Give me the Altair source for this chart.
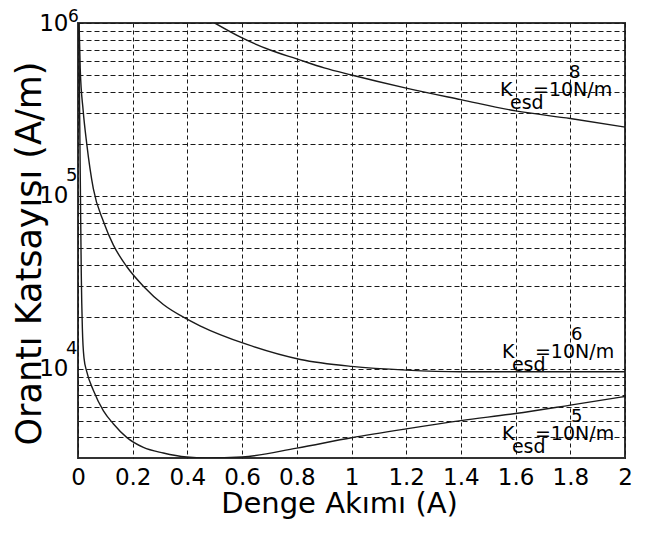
import altair as alt
import pandas as pd

# ---- data ----
x_ticks = [0, 0.2, 0.4, 0.6, 0.8, 1, 1.2, 1.4, 1.6, 1.8, 2]
y_grid = [4e3, 5e3, 6e3, 7e3, 8e3, 9e3,
          1e4, 2e4, 3e4, 4e4, 5e4, 6e4, 7e4, 8e4, 9e4,
          1e5, 2e5, 3e5, 4e5, 5e5, 6e5, 7e5, 8e5, 9e5, 1e6]

k8_x = [0.50, 0.60, 0.70, 0.80, 0.90, 1.00, 1.20, 1.40, 1.60, 1.80, 2.00]
k8_y = [1.0e6, 8.2e5, 7.0e5, 6.2e5, 5.5e5, 5.0e5, 4.2e5, 3.6e5, 3.1e5, 2.8e5, 2.5e5]

k6_x = [0.004, 0.008, 0.019, 0.032, 0.056, 0.093, 0.129, 0.178, 0.239, 0.312,
        0.397, 0.446, 0.618, 0.813, 1.0, 1.2, 1.4, 1.6, 1.8, 2.0]
k6_y = [1.0e6, 5.5e5, 3.1e5, 2.0e5, 1.1e5, 7.1e4, 5.2e4, 3.9e4, 3.0e4, 2.35e4,
        1.94e4, 1.77e4, 1.38e4, 1.13e4, 1.03e4, 9.8e3, 9.6e3, 9.6e3, 9.6e3, 9.6e3]

k5_x = [0.003, 0.006, 0.009, 0.012, 0.016, 0.022, 0.032, 0.056, 0.093, 0.129,
        0.178, 0.239, 0.312, 0.397, 0.47, 0.6, 0.8, 1.0, 1.2, 1.4, 1.6, 1.8, 2.0]
k5_y = [1.0e6, 3.0e5, 1.0e5, 3.5e4, 1.7e4, 1.15e4, 9.6e3, 7.5e3, 5.7e3, 4.8e3,
        4.0e3, 3.5e3, 3.25e3, 3.08e3, 3.04e3, 3.08e3, 3.47e3, 3.98e3, 4.48e3,
        5.0e3, 5.5e3, 6.15e3, 6.9e3]

exp_values = [1e4, 1e5, 1e6]
exp_texts = ["4", "5", "6"]

label_x = [1.543, 1.550, 1.550]
label_y = [3.79e5, 1.157e4, 3.86e3]
label_exp = ["8", "6", "5"]

# ---- tables ----
rows = []
for name, xs, ys in [("k8", k8_x, k8_y), ("k6", k6_x, k6_y), ("k5", k5_x, k5_y)]:
    for xv, yv in zip(xs, ys):
        rows.append({"series": name, "x": xv, "y": yv})
curves = pd.DataFrame(rows)

exp_df = pd.DataFrame({"x": [0] * 3, "y": exp_values, "t": exp_texts})
lab_df = pd.DataFrame({"x": label_x, "y": label_y, "e": label_exp})

FONT = "DejaVu Sans"
INK = "#1a1a1a"

xscale = alt.Scale(domain=[0, 2], nice=False, zero=False)
yscale = alt.Scale(type="log", domain=[3040, 1e6], nice=False)

x_axis = alt.Axis(
    values=x_ticks, format="~g", grid=True, gridDash=[4, 3], gridColor=INK,
    gridOpacity=1, gridWidth=1, ticks=False, domain=False, labelFlush=False,
    labelOverlap=False, labelFont=FONT, labelFontSize=23, labelColor="black",
    labelPadding=8, title="Denge Akımı (A)", titleFont=FONT, titleFontSize=29,
    titleFontWeight="normal", titleColor="black", titleX=261, titleY=54,
    titleAlign="center", titleBaseline="alphabetic", titleAnchor="start",
)
y_axis = alt.Axis(
    values=y_grid, grid=True, gridDash=[5, 3], gridColor=INK, gridOpacity=1,
    gridWidth=1, ticks=False, domain=False, labelFlush=False, labelOverlap=False,
    labelExpr="abs(log(datum.value)/LN10 - round(log(datum.value)/LN10)) < 0.001 ? '10' : ''",
    labelFont=FONT, labelFontSize=23, labelColor="black", labelPadding=10,
    labelBaseline="middle",
    title="Orantı Katsayısı (A/m)", titleFont=FONT, titleFontSize=35,
    titleFontWeight="normal", titleColor="black", titleAngle=270,
    titleX=-38, titleY=230, titleAlign="center", titleBaseline="alphabetic",
    titleAnchor="start",
)

lines = alt.Chart(curves).mark_line(
    color=INK, strokeWidth=1.4, clip=True, interpolate="monotone"
).encode(
    x=alt.X("x:Q", scale=xscale, axis=x_axis),
    y=alt.Y("y:Q", scale=yscale, axis=y_axis),
    detail="series:N",
)

exp_low = alt.Chart(exp_df).transform_filter("datum.t != '6'").mark_text(
    font=FONT, fontSize=18, color="black", align="left", baseline="middle",
    dx=-12, dy=-20,
).encode(x="x:Q", y="y:Q", text="t:N")
exp_top = alt.Chart(exp_df).transform_filter("datum.t == '6'").mark_text(
    font=FONT, fontSize=17, color="black", align="left", baseline="middle",
    dx=-10, dy=-6,
).encode(x="x:Q", y="y:Q", text="t:N")

def piece(text_value, dx, dy, size, field=None):
    m = alt.Chart(lab_df).mark_text(
        font=FONT, fontSize=size, color="black", align="left",
        baseline="alphabetic", dx=dx, dy=dy,
    )
    if field:
        return m.encode(x="x:Q", y="y:Q", text=f"{field}:N")
    return m.encode(x="x:Q", y="y:Q", text=alt.value(text_value))

k_txt = piece("K", 0, 0, 19)
esd_txt = piece("esd", 10, 13, 19)
eq_txt = piece("=10N/m", 33, 0, 19)
e_txt = piece(None, 69, -18, 18, field="e")

chart = alt.layer(
    lines, exp_low, exp_top, k_txt, esd_txt, eq_txt, e_txt
).properties(
    width=547, height=435,
    autosize=alt.AutoSizeParams(type="none"),
    padding={"left": 70, "top": 15, "right": 10, "bottom": 72},
    background="white",
).configure_view(
    stroke="#333333", strokeWidth=2
)

chart.save("out.html", embed_options={"renderer": "svg", "actions": False})
